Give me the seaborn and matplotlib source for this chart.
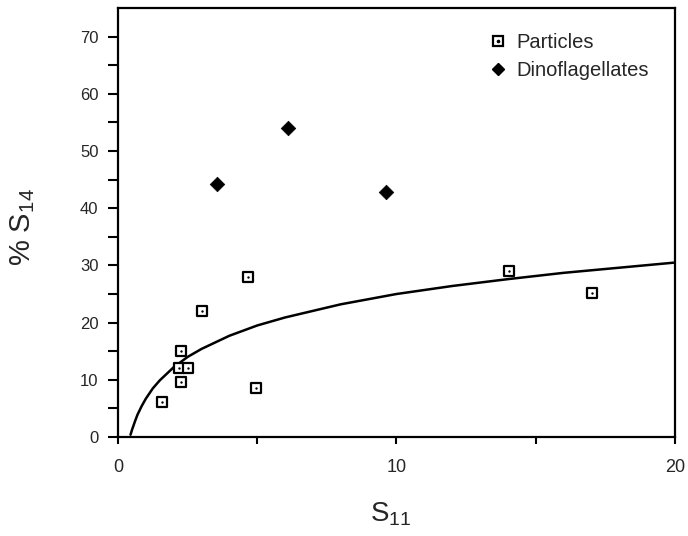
import matplotlib
matplotlib.use("Agg")
import matplotlib.pyplot as plt
import seaborn as sns
import pandas as pd
import numpy as np
from matplotlib.lines import Line2D
from matplotlib.legend_handler import HandlerTuple

# Data
particles_x = [1.58, 2.20, 2.26, 2.26, 2.50, 3.02, 4.66, 4.94, 14.04, 17.02]
particles_y = [6.1, 12.0, 9.65, 15.1, 12.0, 22.1, 28.0, 8.5, 29.1, 25.2]
dino_x = [3.54, 6.09, 9.62]
dino_y = [44.2, 54.0, 42.8]
curve_x = [0.45, 0.5, 0.6, 0.7, 0.85, 1.0, 1.25, 1.5, 2.0, 2.5, 3.0, 4.0, 5.0, 6.0, 8.0, 10.0, 12.0, 14.0, 16.0, 18.0, 20.0]
curve_y = [0.4, 1.2, 2.6, 3.9, 5.4, 6.7, 8.5, 9.9, 12.2, 14.0, 15.4, 17.7, 19.5, 20.9, 23.2, 25.0, 26.4, 27.6, 28.7, 29.6, 30.5]
x_ticks = [0, 10, 20]
y_ticks = [0, 10, 20, 30, 40, 50, 60, 70]
legend_labels = ['Particles', 'Dinoflagellates']

sns.set_style("ticks")
plt.rcParams['font.family'] = ['Liberation Sans', 'DejaVu Sans']
plt.rcParams['mathtext.default'] = 'regular'

fig = plt.figure(figsize=(6.88, 5.36), dpi=100)
ax = fig.add_axes([0.1715, 0.1847, 0.8095, 0.8003])

df_p = pd.DataFrame({'x': particles_x, 'y': particles_y})
df_d = pd.DataFrame({'x': dino_x, 'y': dino_y})
df_c = pd.DataFrame({'x': curve_x, 'y': curve_y})

sns.lineplot(data=df_c, x='x', y='y', ax=ax, color='black', linewidth=1.8, sort=True)
sns.scatterplot(data=df_p, x='x', y='y', ax=ax, marker='s', s=50, facecolor='white',
                edgecolor='black', linewidth=1.6, zorder=3)
sns.scatterplot(data=df_p, x='x', y='y', ax=ax, marker='o', s=3, color='black',
                linewidth=0, zorder=4)
sns.scatterplot(data=df_d, x='x', y='y', ax=ax, marker='D', s=55, color='black',
                edgecolor='black', linewidth=0.5, zorder=3)

ax.set_xlim(0, 20)
ax.set_ylim(0, 75)
ax.set_xticks(x_ticks)
ax.set_xticks([5, 15], minor=True)
ax.set_yticks(y_ticks)
ax.set_yticks(np.arange(5, 75, 10), minor=True)
ax.tick_params(axis='both', which='both', direction='out', width=1.5, color='black')
ax.tick_params(axis='x', which='both', length=5, labelsize=13, pad=11)
ax.tick_params(axis='y', which='both', length=7, labelsize=12, pad=7)
for sp in ax.spines.values():
    sp.set_visible(True)
    sp.set_linewidth(1.6)
    sp.set_color('black')

ax.set_xlabel('S$_{11}$', fontsize=20)
ax.xaxis.set_label_coords(0.49, -0.147)
ax.set_ylabel('% S$_{14}$', fontsize=21)
ax.yaxis.set_label_coords(-0.146, 0.49)

h_sq = Line2D([], [], marker='s', linestyle='none', markersize=6.5, markerfacecolor='white',
              markeredgecolor='black', markeredgewidth=1.6)
h_dot = Line2D([], [], marker='o', linestyle='none', markersize=1.6, color='black')
h_d = Line2D([], [], marker='D', linestyle='none', markersize=6, color='black')
ax.legend([(h_sq, h_dot), h_d], legend_labels,
          handler_map={tuple: HandlerTuple(ndivide=1)},
          loc='upper right', frameon=False, fontsize=14.5, handletextpad=0.4,
          handlelength=1.0, labelspacing=0.45, bbox_to_anchor=(0.985, 0.985))

fig.savefig('out.png', dpi=100)
